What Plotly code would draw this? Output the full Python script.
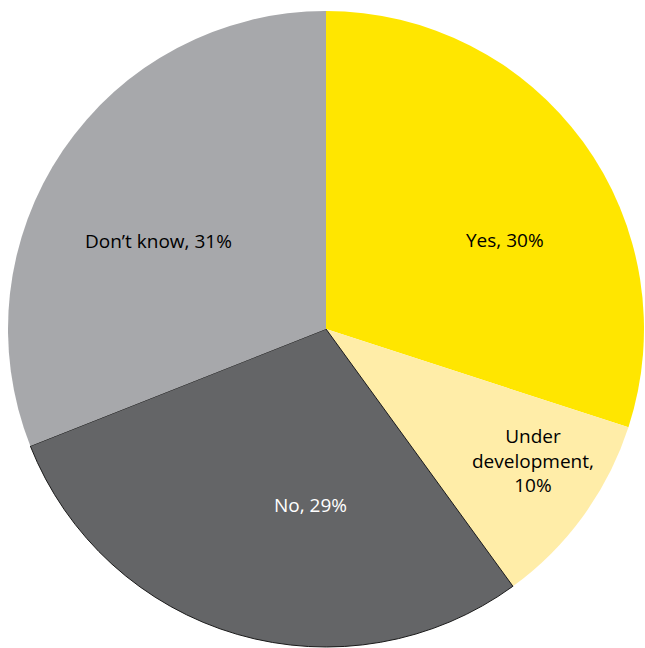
import plotly.graph_objects as go

categories = ["Yes", "Under development", "No", "Don't know"]
values = [30, 10, 29, 31]
label_texts = ["Yes, 30%", "Under<br>development,<br>10%", "No, 29%", "Don’t know, 31%"]

# styling
colors = ["#FFE600", "#FFEDA8", "#646567", "#A7A8AB"]
text_colors = ["#000000", "#000000", "#FFFFFF", "#000000"]
line_widths = [0, 0, 1, 0]
# label placement as offsets from pie centre, in fractions of the pie diameter
label_offsets = [(0.281, 0.140), (0.325, -0.206), (-0.024, -0.277), (-0.263, 0.138)]

fig = go.Figure(go.Pie(
    labels=categories,
    values=values,
    textinfo="none",
    sort=False,
    direction="clockwise",
    rotation=0,
    marker=dict(colors=colors, line=dict(color="#1a1a1a", width=line_widths)),
    hoverinfo="label+percent",
))

for txt, col, (ox, oy) in zip(label_texts, text_colors, label_offsets):
    fig.add_annotation(
        x=0.5 + ox, y=0.5 + oy, xref="paper", yref="paper",
        text=txt, showarrow=False,
        font=dict(family="Open Sans", size=19, color=col),
        align="center", xanchor="center", yanchor="middle",
    )

fig.update_layout(
    width=645, height=648,
    margin=dict(l=8, r=1, t=11, b=1),
    showlegend=False,
    paper_bgcolor="white",
    plot_bgcolor="white",
)

fig.write_html("out.html")
